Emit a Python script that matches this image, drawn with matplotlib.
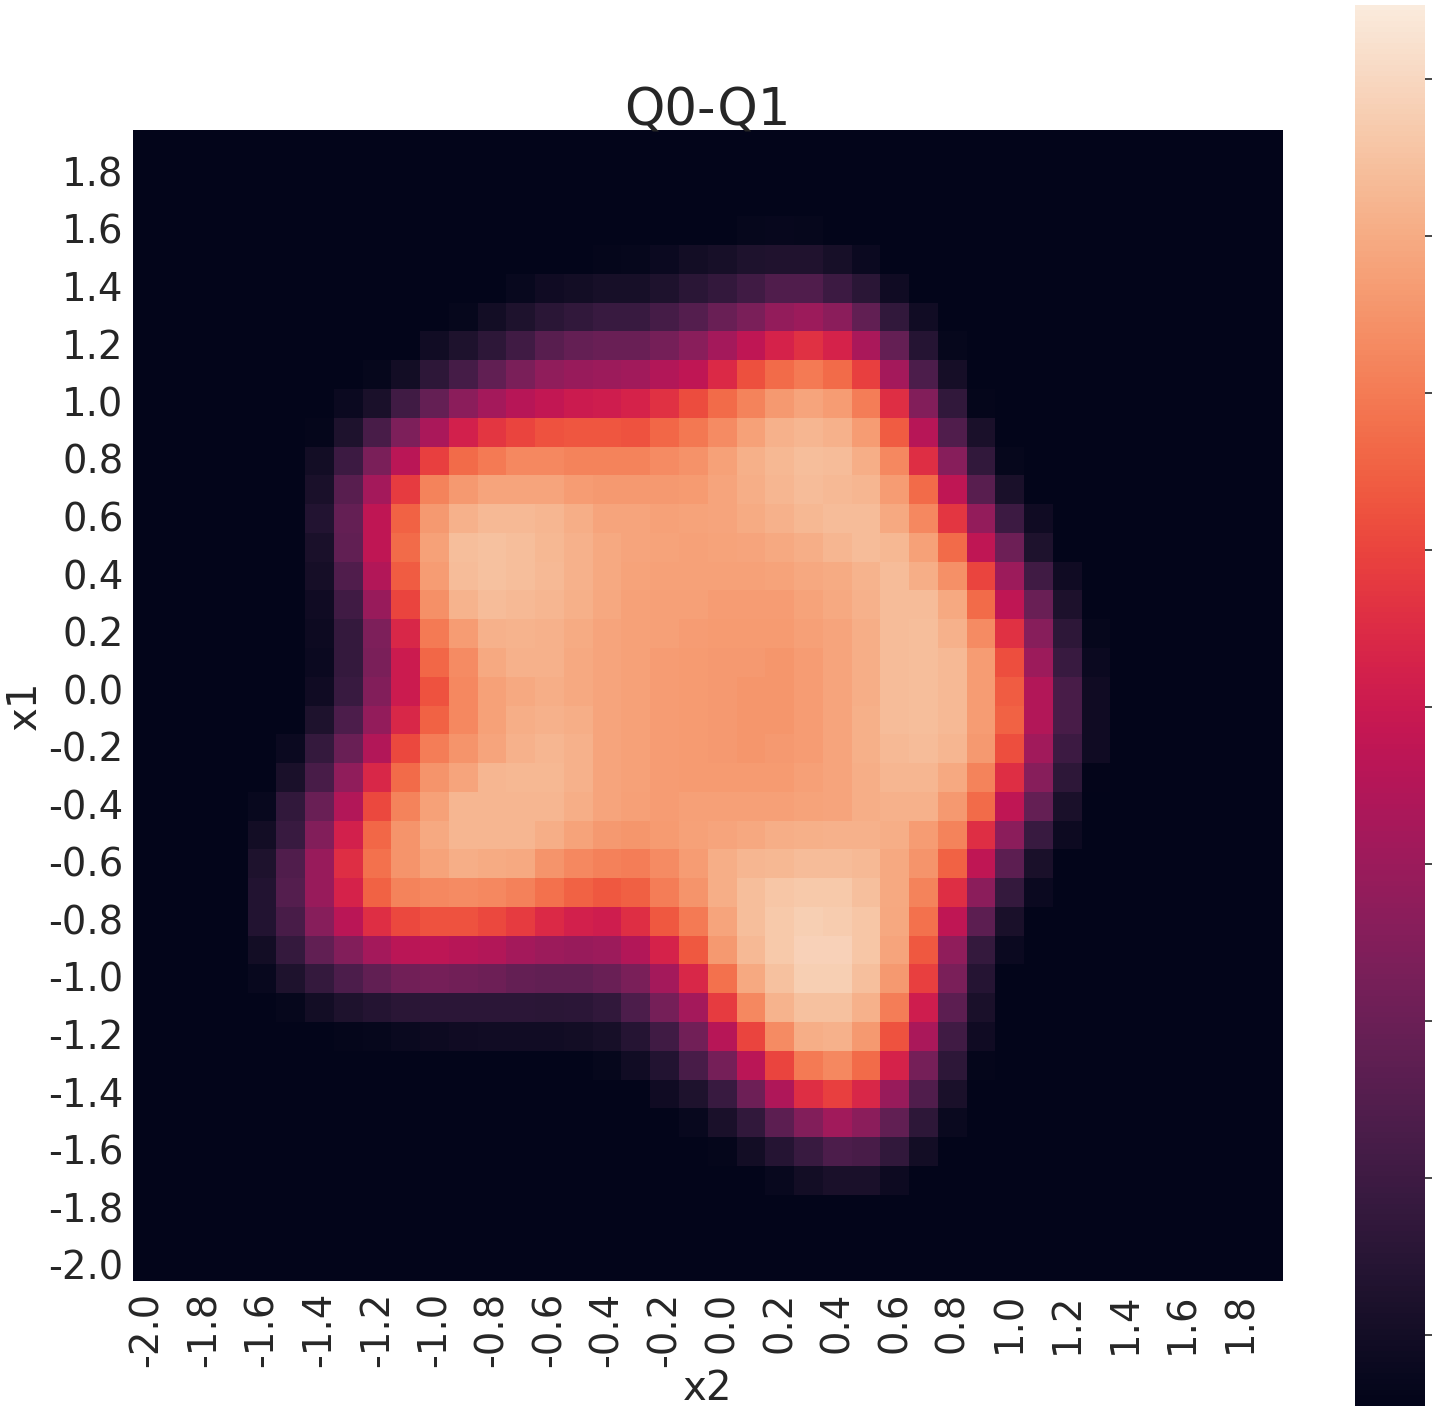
import matplotlib
matplotlib.use('Agg')
import matplotlib.pyplot as plt
from matplotlib.transforms import ScaledTranslation
import numpy as np
import seaborn as sns

# grid labels
x2_labels = ['-2.0', '-1.8', '-1.6', '-1.4', '-1.2', '-1.0', '-0.8', '-0.6', '-0.4', '-0.2',
             '0.0', '0.2', '0.4', '0.6', '0.8', '1.0', '1.2', '1.4', '1.6', '1.8']
x1_labels = ['1.8', '1.6', '1.4', '1.2', '1.0', '0.8', '0.6', '0.4', '0.2', '0.0',
             '-0.2', '-0.4', '-0.6', '-0.8', '-1.0', '-1.2', '-1.4', '-1.6', '-1.8', '-2.0']

# values, top row first (scale 0-100 on the colorbar)
rows = [
    [0] * 40,
    [0] * 40,
    [0] * 40,
    [0] * 20 + [0.3, 1.2, 1.6, 1.2] + [0] * 16,
    [0] * 16 + [1, 1.5, 3, 5, 6, 8, 8.5, 8.5, 6, 3] + [0] * 14,
    [0] * 13 + [2, 4, 5, 6, 6, 8, 11, 13.5, 17, 21, 21, 16, 11, 4] + [0] * 13,
    [0] * 11 + [1.5, 5, 8, 11, 13, 15, 15, 18, 22, 27, 31, 37, 39, 35, 25, 13, 4.5] + [0] * 12,
    [0] * 10 + [4.5, 8, 12, 17, 23, 26, 27, 27, 30, 34.5, 41, 47, 53, 57, 53, 42, 26, 10, 1.2] + [0] * 11,
    [0] * 8 + [1.5, 5, 12, 18, 25, 31, 36, 38, 39, 40, 44, 47, 55, 63.5, 69, 72, 69, 60, 41, 20, 5.5] + [0] * 11,
    [0] * 7 + [3, 7, 17, 26, 35, 41, 45, 48, 50, 51, 53, 57, 62.5, 69, 74, 79, 82, 80, 73, 56, 33, 13, 1] + [0] * 10,
    [0] * 6 + [1, 8, 19, 32, 42, 52, 58, 61, 64, 64.5, 64.5, 64, 68, 71.5, 76, 81, 85, 86, 85, 80, 66, 45, 21, 7] + [0] * 10,
    [0] * 6 + [5, 16, 31, 46, 60, 69, 72, 75, 75, 74, 74, 74, 76, 77.5, 81, 84.5, 86.5, 88, 87.5, 84, 75, 56, 34, 13, 1.5] + [0] * 9,
    [0] * 6 + [7, 23, 41, 59, 74, 79, 82, 82, 82, 80, 79, 79, 79, 79.5, 82, 84, 86, 87.5, 87, 86, 80, 69, 47, 23, 7] + [0] * 9,
    [0] * 6 + [9, 26, 47, 67, 79, 85, 87, 87, 86, 84, 82, 82, 81, 81.5, 82, 83.5, 85, 86.5, 87.5, 87.5, 83, 75, 58, 37, 16, 4] + [0] * 8,
    [0] * 6 + [7, 25, 47, 69, 81, 88, 89, 88, 86.5, 85, 83, 82, 81.5, 81, 81.5, 82, 83, 84, 86, 87.5, 86.5, 81, 69, 47, 28, 8] + [0] * 8,
    [0] * 6 + [5.5, 21, 44, 66, 80, 87.5, 89, 88, 87, 85, 83, 81.5, 81, 81, 81, 81, 81.5, 82.5, 83.5, 85.5, 87.5, 84, 77, 61, 39, 17, 4] + [0] * 7,
    [0] * 6 + [4, 17, 38, 61, 77, 85.5, 87.5, 87, 86, 84.5, 82.5, 81, 80.5, 80.5, 80, 80, 80, 81.5, 83, 85, 87.5, 87.5, 83, 69, 47, 27, 7.5] + [0] * 7,
    [0] * 6 + [3.5, 14, 32, 54, 72, 80, 85, 85.5, 85, 83.5, 82, 81, 80.5, 80, 79.5, 79.5, 79.5, 80.5, 82, 84, 87.5, 88, 85, 76, 57, 34, 12, 1.5] + [0] * 6,
    [0] * 6 + [3, 14, 31, 50, 68, 76, 83, 85, 85, 83, 82, 81, 80, 79.5, 79, 79, 78.5, 80, 82, 84, 87.5, 88, 87, 80, 63, 39, 15, 3] + [0] * 6,
    [0] * 6 + [4, 15, 33, 50, 64, 75, 81, 83, 84, 83, 82, 81, 80, 79.5, 79, 78.5, 78.5, 80, 82, 84, 87.5, 88, 87, 80, 66, 44, 19, 4] + [0] * 6,
    [0] * 5 + [0.3, 8, 20, 37, 54, 67, 75, 81, 84, 85, 84, 82, 81, 80, 79.5, 79, 78.5, 78.5, 80, 82, 84.5, 87.5, 88, 87, 80, 67, 44, 19, 4] + [0] * 6,
    [0] * 5 + [3, 14, 27, 44, 62, 73, 78, 82, 85, 86, 85, 82, 81, 80, 79.5, 79, 78.5, 79, 80, 82, 84.5, 87, 87.5, 86, 79, 63, 40, 16, 4] + [0] * 6,
    [0] * 5 + [7, 19, 36, 54, 69, 78, 82, 86, 86.5, 86.5, 85, 82, 81, 80, 79.5, 79.5, 79.5, 79.5, 80.5, 82, 84, 86, 86, 83, 74, 56, 34, 12, 0.5] + [0] * 6,
    [0] * 4 + [2, 13, 27, 44, 62, 74, 81, 86, 86, 86, 86, 84, 82, 80.5, 80, 80.5, 80.5, 80.5, 80.5, 81.5, 82, 84, 85, 85, 79, 69, 47, 26, 7] + [0] * 7,
    [0] * 4 + [5, 15, 33, 52, 68, 78, 83, 86, 86, 86, 84, 81.5, 79, 78.5, 79.5, 81, 82, 82.5, 84, 84.5, 85, 85, 84, 80, 74, 56, 35, 15, 3.5] + [0] * 7,
    [0] * 4 + [8, 21, 38, 56, 70, 78, 81.5, 84, 83.5, 83, 78, 75, 73.5, 73, 76, 80, 84, 86, 86.5, 87.5, 87.5, 87, 83, 78, 67, 47, 24, 7] + [0] * 8,
    [0] * 4 + [9, 22, 38, 53, 67, 74, 75, 76, 75, 73.5, 70, 67, 65, 66.5, 73, 78, 84, 88, 90, 91, 91, 88.5, 83, 74, 56, 35, 14, 3] + [0] * 8,
    [0] * 4 + [9, 19, 34, 46, 56, 62, 64, 64, 62, 59, 55, 52, 51, 56, 65, 72, 82, 88, 91, 92.5, 91.5, 90, 82.5, 70, 47, 24, 7] + [0] * 9,
    [0] * 4 + [5, 14, 25, 33, 41, 46, 46.5, 45, 44, 41, 39, 38, 39, 44, 53, 65, 79, 87, 91, 93, 93, 90, 82, 65, 36, 14, 3] + [0] * 9,
    [0] * 4 + [2, 8, 14, 20, 25, 29, 30, 29, 28, 26, 25, 25, 27, 31, 41, 54, 70, 83, 89, 92.5, 92.5, 88.5, 79, 60, 31, 10] + [0] * 10,
    [0] * 5 + [1.5, 5, 8, 9.5, 11, 11.5, 11.5, 11.5, 11.5, 11, 11.5, 13, 20, 30, 41, 59, 75, 85.5, 89, 89, 85, 73, 51, 24, 7] + [0] * 10,
    [0] * 7 + [1, 1.5, 2.5, 3.5, 4, 4.5, 4.5, 4.5, 5, 6, 10, 17, 29, 45, 61, 76, 84, 85, 79, 64, 42, 17, 4] + [0] * 10,
    [0] * 16 + [1.5, 4.5, 9, 19, 30, 46, 61, 72, 75, 69, 53, 30, 12, 1] + [0] * 10,
    [0] * 18 + [4, 8, 15, 28, 43, 56, 60, 54, 38, 21, 7] + [0] * 11,
    [0] * 19 + [2, 7, 13, 24, 33, 40, 35, 25, 12, 2.5] + [0] * 11,
    [0] * 20 + [0.8, 5, 10, 15, 20, 19, 13, 5] + [0] * 12,
    [0] * 22 + [2, 5, 7, 7, 3.5] + [0] * 13,
    [0] * 40,
    [0] * 40,
    [0] * 40,
]
values = np.array(rows, dtype=float)

W, H = 1435, 1414
TXT = '#262626'

fig = plt.figure(figsize=(W / 100, H / 100), dpi=100, facecolor='white')
ax = fig.add_axes([132.5 / W, 1 - 1281 / H, 1150.5 / W, 1151 / H])
cax = fig.add_axes([1354.5 / W, 1 - 1406 / H, 70 / W, 1401 / H])

sns.heatmap(values, ax=ax, cbar_ax=cax, cmap='rocket', vmin=0, vmax=100)

ax.set_xticks(np.arange(0, 40, 2) + 0.5)
ax.set_xticklabels(x2_labels, rotation=90, fontsize=27.8, color=TXT)
ax.set_yticks(np.arange(1, 40, 2) + 0.5)
ax.set_yticklabels(x1_labels, rotation=0, fontsize=27.8, color=TXT, va='center')
ax.tick_params(axis='y', length=0, pad=6.5)
ax.tick_params(axis='x', length=0, pad=8)
# y labels sit 2px lower in the original
shift = ScaledTranslation(0, -2 / 100, fig.dpi_scale_trans)
for lab in ax.get_yticklabels():
    lab.set_transform(lab.get_transform() + shift)
ax.set_xlabel('x2', fontsize=29, color=TXT, labelpad=1)
ax.set_ylabel('x1', fontsize=29, color=TXT, labelpad=2)
ax.set_title('Q0-Q1', fontsize=37, color=TXT, y=1.0, pad=3)

# colorbar has tick marks but the labels are blank
cax.set_yticks([5.07 + 11.21 * i for i in range(9)])
cax.set_yticklabels([])
cax.tick_params(length=5, width=1.2, color=TXT)

fig.savefig('out.png', dpi=100, facecolor='white')
plt.close()
